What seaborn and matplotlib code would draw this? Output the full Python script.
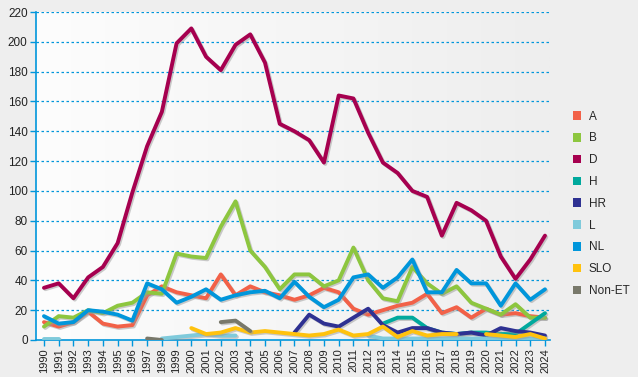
import numpy as np
import pandas as pd
import matplotlib
matplotlib.use("Agg")
import matplotlib.pyplot as plt
import matplotlib.patheffects as pe
from matplotlib.patches import Patch
import seaborn as sns

# yearly values (None = no data)
years = list(range(1990, 2025))
series_names = ['A', 'B', 'D', 'H', 'HR', 'L', 'NL', 'SLO', 'Non-ET']
colors = ['#f26148', '#8dc63f', '#a6004f', '#00a99d', '#2e3192',
          '#7fcadb', '#0096db', '#ffc20e', '#78786a']

A = [12, 9, 12, 19, 11, 9, 10, 30, 36, 32,
     30, 28, 44, 30, 36, 32, 30, 27, 30, 35,
     32, 21, 17, 20, 23, 25, 31, 18, 22, 15,
     21, 17, 18, 16, 15]
B = [9, 16, 15, 20, 18, 23, 25, 32, 31, 58,
     56, 55, 76, 93, 60, 49, 34, 44, 44, 36,
     40, 62, 40, 28, 26, 49, 38, 31, 36, 25,
     21, 17, 24, 15, 15]
D = [35, 38, 28, 42, 49, 65, 99, 130, 153, 199,
     209, 190, 181, 198, 205, 186, 145, 140, 134, 119,
     164, 162, 139, 119, 112, 100, 96, 70, 92, 87,
     80, 56, 41, 54, 70]
H = [None] * 23 + [11, 15, 15, 8, 5, 4, 5, 5, 4, 4, 11, 18]
HR = [None] * 17 + [5, 17, 11, 9, 15, 21, 10, 5, 8, 8, 5, 4, 5, 3, 8, 6, 5, 3]
L = [1, 1] + [None] * 6 + [1, 2, 3, 4, 3, 3] + [None] * 8 + [3] + [1] * 12
NL = [16, 11, 12, 20, 19, 17, 13, 38, 34, 25,
      29, 34, 27, 30, 32, 33, 28, 39, 29, 22,
      27, 42, 44, 35, 42, 54, 32, 32, 47, 38,
      38, 23, 38, 27, 34]
SLO = [None] * 10 + [8, 4, 5, 8, 5, 6, 5, 4, 3, 4,
                     7, 3, 4, 9, 2, 6, 3, 4, 4, None,
                     4, 3, 2, 4, 1]
NonET = [None] * 7 + [1, 0, None, None, None, 12, 13, 6] + [None] * 20

values = [A, B, D, H, HR, L, NL, SLO, NonET]

# long format, with a segment id so gaps stay gaps
rows = []
for name, vals in zip(series_names, values):
    seg = 0
    prev = None
    for yr, v in zip(years, vals):
        if v is None:
            if prev is not None:
                seg += 1
            prev = None
            continue
        rows.append({'year': yr, 'value': v, 'series': name, 'seg': f'{name}_{seg}'})
        prev = v
df = pd.DataFrame(rows)

sns.set_style('white')
plt.rcParams['font.family'] = ['Liberation Sans', 'DejaVu Sans']

fig = plt.figure(figsize=(6.38, 3.77), dpi=100, facecolor='#eeeeee')
ax = fig.add_axes([36 / 638, 37 / 377, 514 / 638, 328 / 377])
ax.set_facecolor('#eeeeee')

# soft horizontal gradient behind the plot
grad = np.linspace(0, 1, 256).reshape(1, -1)
ax.imshow(grad, extent=[0, 1, 0, 1], transform=ax.transAxes, aspect='auto',
          cmap=matplotlib.colors.LinearSegmentedColormap.from_list('bg', ['#fdfdfd', '#eeeeee']),
          zorder=0)

blue = '#0096db'
for i, name in enumerate(series_names):
    sub = df[df['series'] == name]
    sns.lineplot(data=sub, x='year', y='value', units='seg', estimator=None,
                 color=colors[i], lw=2.8, ax=ax, legend=False, zorder=3 + i,
                 solid_capstyle='round', solid_joinstyle='round',
                 path_effects=[pe.SimpleLineShadow(offset=(1.0, -1.0), shadow_color='#999999', alpha=0.5),
                               pe.Normal()])

ax.set_xlim(1989.46, 2024.34)
ax.set_ylim(0, 220)
ax.set_xticks(years)
ax.set_xticklabels([str(y) for y in years], rotation=90, fontsize=8, color='#222222')
ax.set_yticks(range(0, 221, 20))
ax.set_yticklabels([str(v) for v in range(0, 221, 20)], fontsize=8.5, color='#222222')
ax.set_xlabel('')
ax.set_ylabel('')

for yv in range(20, 221, 20):
    ax.axhline(yv, color=blue, lw=0.9, ls=(0, (2, 2)), zorder=1)

for side in ['top', 'right']:
    ax.spines[side].set_visible(False)
for side in ['left', 'bottom']:
    ax.spines[side].set_color(blue)
    ax.spines[side].set_linewidth(1.2)
ax.tick_params(axis='both', which='both', direction='out', length=4, width=1,
               color=blue, left=True, bottom=True, pad=2)

handles = [Patch(facecolor=c, edgecolor='none', label=n) for n, c in zip(series_names, colors)]
fig.legend(handles=handles, loc='upper left', bbox_to_anchor=(562 / 638, 1 - 100 / 377),
           frameon=False, fontsize=8.5, handlelength=0.75, handleheight=0.75,
           handletextpad=0.6, labelspacing=0.83)

fig.savefig('out.png', dpi=100, facecolor=fig.get_facecolor())
